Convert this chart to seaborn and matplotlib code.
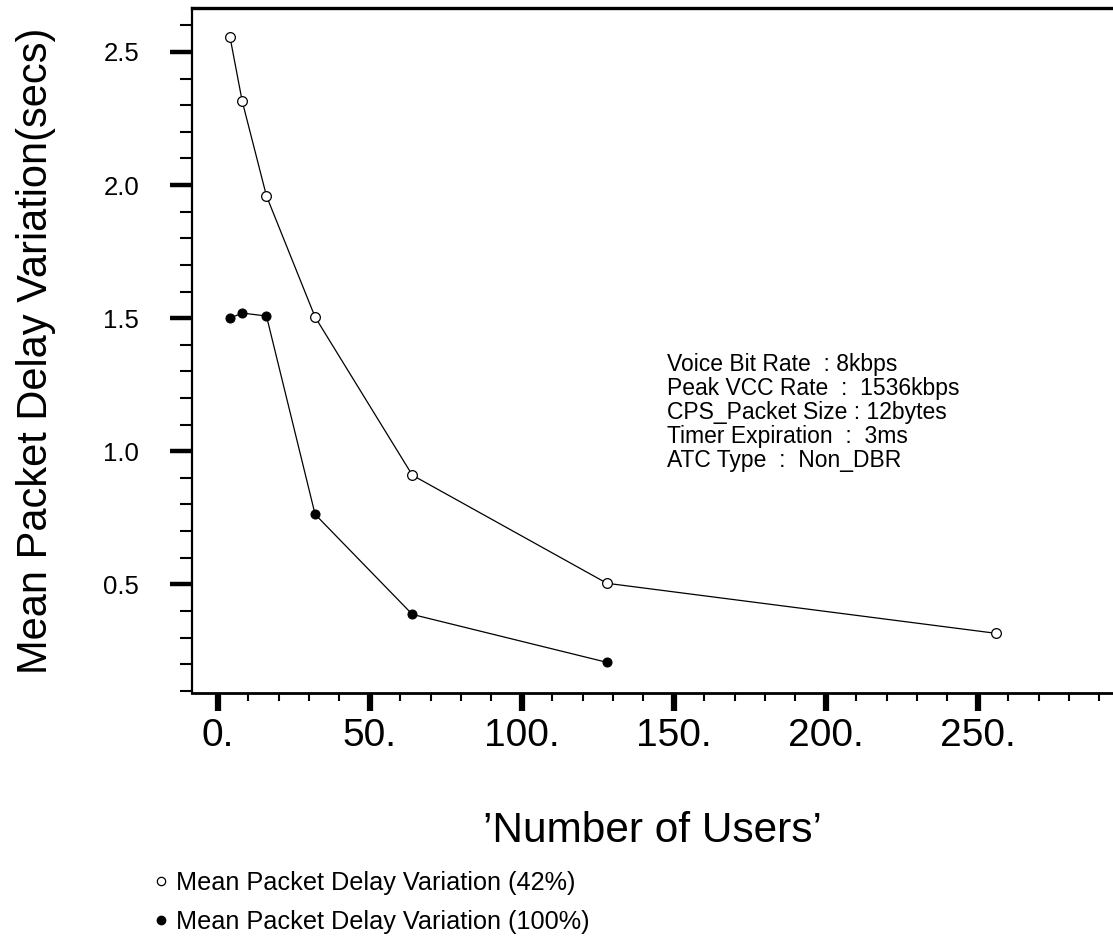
import matplotlib
matplotlib.use("Agg")
import matplotlib.pyplot as plt
from matplotlib.lines import Line2D
from matplotlib.ticker import MultipleLocator, FormatStrFormatter
import pandas as pd
import seaborn as sns

# data
users = [4, 8, 16, 32, 64, 128, 256]
pdv_42 = [2.556, 2.316, 1.959, 1.504, 0.910, 0.504, 0.316]
users_100 = [4, 8, 16, 32, 64, 128]
pdv_100 = [1.50, 1.519, 1.508, 0.763, 0.387, 0.207]

notes = ["Voice Bit Rate  : 8kbps",
         "Peak VCC Rate  :  1536kbps",
         "CPS_Packet Size : 12bytes",
         "Timer Expiration  :  3ms",
         "ATC Type  :  Non_DBR"]
legend_labels = ["Mean Packet Delay Variation (42%)",
                 "Mean Packet Delay Variation (100%)"]

sns.set_style("ticks")
plt.rcParams['font.family'] = ['Liberation Sans', 'DejaVu Sans']
plt.rcParams.update({'text.color': 'black', 'axes.labelcolor': 'black',
                     'xtick.color': 'black', 'ytick.color': 'black'})

fig = plt.figure(figsize=(11.13, 9.41), dpi=100)
ax = fig.add_axes([0.1725, 0.2636, 0.8275, 0.7279])

df42 = pd.DataFrame({'users': users, 'pdv': pdv_42})
df100 = pd.DataFrame({'users': users_100, 'pdv': pdv_100})

sns.lineplot(data=df42, x='users', y='pdv', ax=ax, color='black', lw=0.9,
             marker='o', markersize=7, markerfacecolor='white',
             markeredgecolor='black', markeredgewidth=0.9)
sns.lineplot(data=df100, x='users', y='pdv', ax=ax, color='black', lw=0.9,
             marker='o', markersize=6.5, markerfacecolor='black',
             markeredgecolor='black')

ax.set_xlim(-8.5, 294.5)
ax.set_ylim(0.092, 2.665)

ax.xaxis.set_major_locator(MultipleLocator(50))
ax.xaxis.set_minor_locator(MultipleLocator(10))
ax.yaxis.set_major_locator(MultipleLocator(0.5))
ax.yaxis.set_minor_locator(MultipleLocator(0.1))
ax.xaxis.set_major_formatter(FormatStrFormatter('%d.'))
ax.yaxis.set_major_formatter(FormatStrFormatter('%.1f'))

ax.tick_params(axis='x', which='major', length=13, width=4.5, labelsize=28, pad=5)
ax.tick_params(axis='x', which='minor', length=6, width=1.5)
ax.tick_params(axis='y', which='major', length=16, width=3.2, labelsize=18.5, pad=22)
ax.tick_params(axis='y', which='minor', length=9, width=1.5)

ax.spines['right'].set_visible(False)
ax.spines['top'].set_linewidth(2.4)
ax.spines['left'].set_linewidth(1.6)
ax.spines['bottom'].set_linewidth(2.0)
for s in ax.spines.values():
    s.set_color('black')

ax.set_xlabel("\u2019Number of Users\u2019", fontsize=30.5, labelpad=41)
ax.set_ylabel("Mean Packet Delay Variation(secs)", fontsize=30, labelpad=34)

ax.text(0.5155, 0.496, "\n".join(notes), transform=ax.transAxes,
        fontsize=16.5, va='top', ha='left', linespacing=1.05)

handles = [Line2D([], [], ls='none', marker='o', markersize=6,
                  markerfacecolor='white', markeredgecolor='black', markeredgewidth=0.9),
           Line2D([], [], ls='none', marker='o', markersize=6,
                  markerfacecolor='black', markeredgecolor='black')]
fig.legend(handles, legend_labels, loc='upper left', bbox_to_anchor=(0.13, 0.085),
           frameon=False, fontsize=18.2, handlelength=0.5, handletextpad=0.35,
           labelspacing=0.6, borderaxespad=0)

fig.savefig('out.png', dpi=100)
